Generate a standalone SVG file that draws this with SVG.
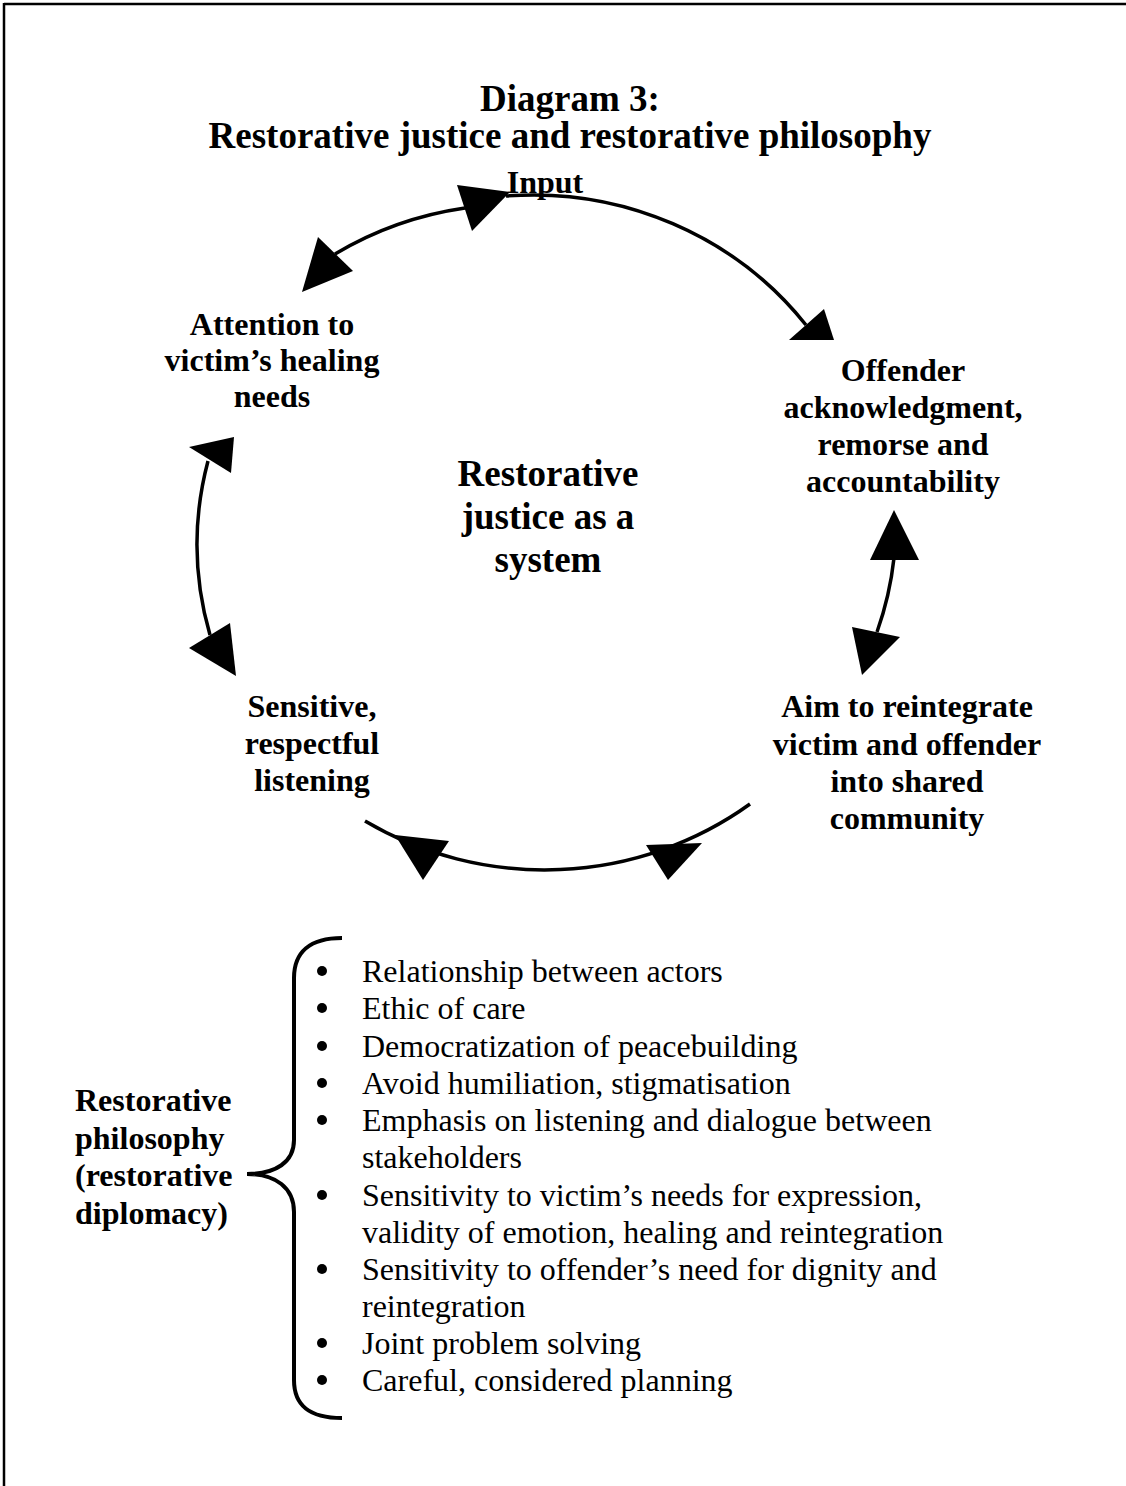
<svg xmlns="http://www.w3.org/2000/svg" width="1126" height="1486" viewBox="0 0 1126 1486">
<style>
.t{font-family:"Liberation Serif","Times New Roman",serif;fill:#000}
.title{font-size:37px;font-weight:bold;text-anchor:middle}
.lbl{font-size:32px;font-weight:bold;text-anchor:middle}
.ctr{font-size:37px;font-weight:bold;text-anchor:middle}
.side{font-size:32px;font-weight:bold}
.li{font-size:32px}
.arc{fill:none;stroke:#000;stroke-width:3.5}
.head{fill:#000;stroke:none}
.brace{fill:none;stroke:#000;stroke-width:4}
</style>
<rect width="1126" height="1486" fill="#fff"/>
<g id="frame">
<line x1="4" y1="4" x2="1126" y2="4" stroke="#000" stroke-width="2.5"/>
<line x1="4" y1="3" x2="4" y2="1486" stroke="#000" stroke-width="2.5"/>
</g>
<g id="title">
<text class="t title" x="570" y="111">Diagram 3:</text>
<text class="t title" x="570" y="148">Restorative justice and restorative philosophy</text>
</g>
<g id="connectors">
<path class="arc" d="M 335 254 A 345 335 0 0 1 465 208"/>
<polygon class="head" points="302,292 318,237 353,271"/>
<polygon class="head" points="510,192 457,185 472,231"/>
<path class="arc" d="M 506 196 A 345 335 0 0 1 806 325"/>
<polygon class="head" points="834,340 824,309 789,340"/>
<path class="arc" d="M 210 635 A 345 335 0 0 1 208 461"/>
<polygon class="head" points="234,437 189,447 231,473"/>
<polygon class="head" points="236,676 189,648 230,623"/>
<path class="arc" d="M 894 558 A 345 335 0 0 1 877 632"/>
<polygon class="head" points="894,510 870,560 919,560"/>
<polygon class="head" points="862,675 852,627 900,637"/>
<path class="arc" d="M 365 821 A 345 335 0 0 0 750 804"/>
<polygon class="head" points="395,835 449,841 423,880"/>
<polygon class="head" points="646,845 702,843 668,880"/>
</g>
<g id="node-input">
<text class="t lbl" x="545" y="193">Input</text>
</g>
<g id="node-victim">
<text class="t lbl" x="272" y="335">Attention to</text>
<text class="t lbl" x="272" y="371">victim’s healing</text>
<text class="t lbl" x="272" y="407">needs</text>
</g>
<g id="node-offender">
<text class="t lbl" x="903" y="381">Offender</text>
<text class="t lbl" x="903" y="418">acknowledgment,</text>
<text class="t lbl" x="903" y="455">remorse and</text>
<text class="t lbl" x="903" y="492">accountability</text>
</g>
<g id="node-center">
<text class="t ctr" x="548" y="486">Restorative</text>
<text class="t ctr" x="548" y="529">justice as a</text>
<text class="t ctr" x="548" y="572">system</text>
</g>
<g id="node-listening">
<text class="t lbl" x="312" y="717">Sensitive,</text>
<text class="t lbl" x="312" y="754">respectful</text>
<text class="t lbl" x="312" y="791">listening</text>
</g>
<g id="node-reintegrate">
<text class="t lbl" x="907" y="717">Aim to reintegrate</text>
<text class="t lbl" x="907" y="755">victim and offender</text>
<text class="t lbl" x="907" y="792">into shared</text>
<text class="t lbl" x="907" y="829">community</text>
</g>
<g id="node-philosophy">
<text class="t side" x="75" y="1111">Restorative</text>
<text class="t side" x="75" y="1149">philosophy</text>
<text class="t side" x="75" y="1186">(restorative</text>
<text class="t side" x="75" y="1224">diplomacy)</text>
<path class="brace" d="M 342 938 C 310 938 294 952 294 978 L 294 1140 C 294 1162 276 1174 247 1174 C 276 1174 294 1188 294 1212 L 294 1380 C 294 1406 310 1418 342 1418"/>
</g>
<g id="list">
<g class="head">
<circle cx="322" cy="971" r="5"/>
<circle cx="322" cy="1008" r="5"/>
<circle cx="322" cy="1046" r="5"/>
<circle cx="322" cy="1083" r="5"/>
<circle cx="322" cy="1120" r="5"/>
<circle cx="322" cy="1195" r="5"/>
<circle cx="322" cy="1269" r="5"/>
<circle cx="322" cy="1343" r="5"/>
<circle cx="322" cy="1380" r="5"/>
</g>
<text class="t li" x="362" y="982">Relationship between actors</text>
<text class="t li" x="362" y="1019">Ethic of care</text>
<text class="t li" x="362" y="1057">Democratization of peacebuilding</text>
<text class="t li" x="362" y="1094">Avoid humiliation, stigmatisation</text>
<text class="t li" x="362" y="1131">Emphasis on listening and dialogue between</text>
<text class="t li" x="362" y="1168">stakeholders</text>
<text class="t li" x="362" y="1206">Sensitivity to victim’s needs for expression,</text>
<text class="t li" x="362" y="1243">validity of emotion, healing and reintegration</text>
<text class="t li" x="362" y="1280">Sensitivity to offender’s need for dignity and</text>
<text class="t li" x="362" y="1317">reintegration</text>
<text class="t li" x="362" y="1354">Joint problem solving</text>
<text class="t li" x="362" y="1391">Careful, considered planning</text>
</g>
</svg>
